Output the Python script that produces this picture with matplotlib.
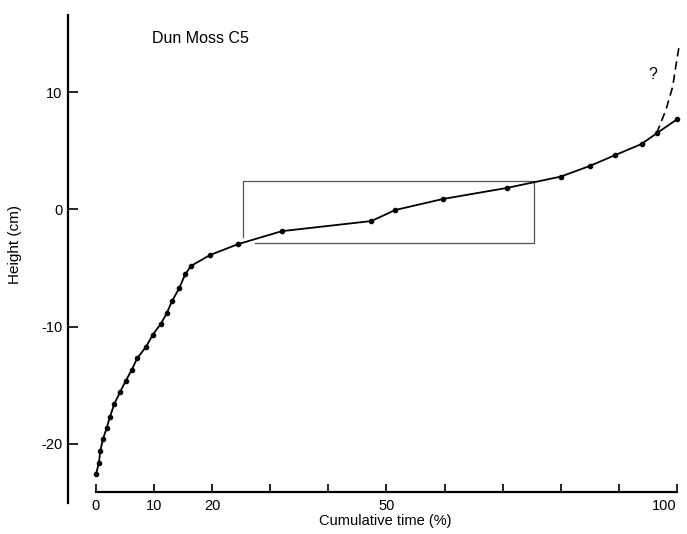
import matplotlib
matplotlib.use("Agg")
import matplotlib.pyplot as plt
from matplotlib.ticker import FixedLocator, FixedFormatter

plt.rcParams['font.family'] = ['Liberation Sans', 'DejaVu Sans']

# data
time_pct = [0.0, 0.52, 0.74, 1.2, 1.84, 2.41, 3.15, 4.13, 5.16, 6.14, 7.1, 8.66,
            9.76, 11.19, 12.17, 13.08, 14.34, 15.37, 16.35, 19.62, 24.39, 32.0,
            47.4, 51.5, 59.7, 70.7, 80.0, 85.0, 89.4, 93.9, 96.5, 100.0]
height_cm = [-22.6, -21.6, -20.6, -19.6, -18.65, -17.7, -16.6, -15.6, -14.6, -13.7,
             -12.7, -11.7, -10.7, -9.75, -8.87, -7.84, -6.71, -5.54, -4.83, -3.9,
             -2.98, -1.86, -1.0, -0.06, 0.88, 1.82, 2.79, 3.7, 4.63, 5.57, 6.48, 7.67]

dash_time = [96.5, 98.1, 99.26, 99.83, 100.4]
dash_height = [6.48, 8.49, 10.45, 12.3, 14.0]

box_time = [25.35, 25.35, 75.4, 75.4, 27.4]
box_height = [-2.34, 2.44, 2.44, -2.9, -2.9]

x_ticks = [0, 10, 20, 30, 40, 50, 60, 70, 80, 90, 100]
x_tick_labels = ['0', '10', '20', '', '', '50', '', '', '', '', '100']
y_ticks = [-20, -10, 0, 10]
y_tick_labels = ['-20', '-10', '0', '10']

fig = plt.figure(figsize=(6.87, 5.34), dpi=100)
ax = fig.add_axes([0.0889, 0.0479, 0.9092, 0.9401])
ax.set_xlim(-6, 101.5)
ax.set_ylim(-25.5, 17.3)

ax.plot(box_time, box_height, color='#555555', lw=0.9)
ax.plot(dash_time, dash_height, color='black', lw=1.2, ls=(0, (5, 3)))
ax.plot(time_pct, height_cm, color='black', lw=1.3, marker='o', ms=3.0,
        markerfacecolor='black', markeredgecolor='black')

for s in ['top', 'right']:
    ax.spines[s].set_visible(False)
ax.spines['left'].set_position(('data', -4.77))
ax.spines['left'].set_bounds(-25.0, 16.6)
ax.spines['bottom'].set_position(('data', -24.07))
ax.spines['bottom'].set_bounds(0, 100)
for s in ['left', 'bottom']:
    ax.spines[s].set_linewidth(1.6)

ax.xaxis.set_major_locator(FixedLocator(x_ticks))
ax.xaxis.set_major_formatter(FixedFormatter(x_tick_labels))
ax.yaxis.set_major_locator(FixedLocator(y_ticks))
ax.yaxis.set_major_formatter(FixedFormatter(y_tick_labels))
ax.tick_params(axis='x', direction='in', length=6, width=1.2, pad=5, labelsize=10.5)
ax.tick_params(axis='y', direction='in', length=7, width=1.2, pad=4, labelsize=10.5)

fig.canvas.draw()
ax.get_xticklabels()[-1].set_horizontalalignment('right')
ax.get_xticklabels()[-1].set_x(100.3)

ax.text(9.6, 14.6, 'Dun Moss C5', fontsize=11.5, ha='left', va='center')
ax.text(95.9, 11.5, '?', fontsize=11.5, ha='center', va='center')

fig.text(385 / 687, 1 - 521 / 534, 'Cumulative time (%)', ha='center', va='center', fontsize=10.5)
fig.text(15 / 687, 1 - 244 / 534, 'Height (cm)', ha='center', va='center', rotation=90, fontsize=11)

fig.savefig('out.png', dpi=100)
